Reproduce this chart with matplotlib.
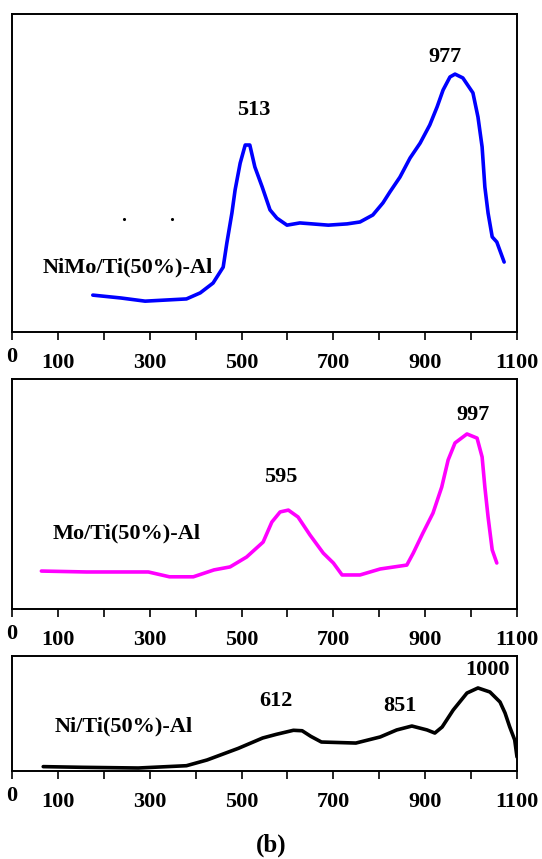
import matplotlib
matplotlib.use("Agg")
import matplotlib.pyplot as plt
from matplotlib.transforms import ScaledTranslation

plt.rcParams['font.family'] = ['Liberation Serif', 'DejaVu Serif']
plt.rcParams['font.weight'] = 'bold'

# ---- data (temperature, relative signal in % of panel height) ----
nimo_x = [176, 237, 290, 380, 410, 438, 460, 468, 479, 486, 497, 508, 518, 529, 545, 562, 577,
          599, 627, 689, 730, 758, 786, 808, 823, 845, 867, 889, 910, 926, 939, 954, 965, 982,
          1004, 1015, 1024, 1030, 1037, 1046, 1056, 1072]
nimo_y = [11.6, 10.7, 9.7, 10.4, 12.3, 15.4, 20.4, 28.0, 37.4, 44.7, 53.1, 58.8, 58.8, 51.9,
          45.6, 38.4, 35.8, 33.6, 34.3, 33.6, 34.0, 34.6, 36.8, 40.6, 44.0, 48.7, 54.7, 59.4,
          65.1, 70.8, 76.1, 80.2, 81.1, 79.9, 75.2, 67.6, 58.2, 45.6, 37.4, 29.9, 28.3, 22.0]
nimo_dots_x = [243, 348]
nimo_dots_y = [35.5, 35.5]

mo_x = [64, 162, 297, 343, 395, 440, 475, 511, 547, 566, 584, 602, 623, 649, 678, 700, 719,
        758, 802, 860, 874, 895, 917, 936, 950, 965, 991, 1013, 1024, 1030, 1037, 1046, 1056]
mo_y = [16.5, 16.1, 16.1, 14.0, 14.0, 17.0, 18.3, 22.6, 29.1, 37.8, 42.2, 43.0, 40.0, 32.2,
        24.3, 20.0, 14.8, 14.8, 17.4, 19.1, 24.3, 33.0, 41.7, 53.0, 64.8, 72.2, 76.1, 74.3,
        66.1, 53.0, 40.0, 25.7, 20.0]

ni_x = [68, 154, 275, 380, 425, 493, 546, 576, 613, 632, 651, 674, 749, 802, 838, 871, 904,
        921, 937, 961, 991, 1015, 1041, 1063, 1074, 1084, 1095, 1100]
ni_y = [3.8, 3.2, 2.6, 4.6, 9.6, 19.7, 28.7, 31.9, 35.4, 35.0, 30.1, 25.2, 24.3, 29.6, 35.7,
        39.1, 35.7, 33.0, 38.3, 53.0, 67.8, 72.2, 68.7, 60.0, 50.4, 38.5, 27.0, 12.2]

tick_values = [0, 100, 200, 300, 400, 500, 600, 700, 800, 900, 1000, 1100]
tick_labels = ['0', '100', '', '300', '', '500', '', '700', '', '900', '', '1100']

sample_names = ['NiMo/Ti(50%)-Al', 'Mo/Ti(50%)-Al', 'Ni/Ti(50%)-Al']
peak_labels = [['513', '977'], ['595', '997'], ['612', '851', '1000']]
peak_label_x = [[527, 943], [585, 1005], [576, 845, 1035]]
peak_label_y = [[69.8, 86.5], [57.4, 84.3], [60.9, 56.5, 87.8]]
name_x = [252, 249, 244]
name_y = [20.4, 33.0, 38.3]
colors = ['#0000FF', '#FF00FF', '#000000']

W, H = 542, 859
fig = plt.figure(figsize=(W / 100, H / 100), dpi=100)

# panel rectangles in pixels: (left, top, right, bottom)
rects = [(12, 14, 517, 332), (12, 379, 517, 609), (12, 656, 517, 771)]
series = [(nimo_x, nimo_y), (mo_x, mo_y), (ni_x, ni_y)]

FS = 16
for i, (l, t, r, b) in enumerate(rects):
    ax = fig.add_axes([l / W, 1 - b / H, (r - l) / W, (b - t) / H])
    xs, ys = series[i]
    ax.plot(xs, ys, color=colors[i], lw=2.6, solid_joinstyle='round', solid_capstyle='round')
    if i == 0:
        ax.scatter(nimo_dots_x, nimo_dots_y, s=1.5, color='black', zorder=3)
    ax.set_xlim(0, 1100)
    ax.set_ylim(0, 100)
    for sp in ax.spines.values():
        sp.set_linewidth(1.4)
        sp.set_color('black')
    ax.set_yticks([])
    ax.set_xticks(tick_values)
    ax.set_xticklabels(tick_labels, fontsize=FS, fontweight='bold')
    ax.tick_params(axis='x', direction='out', length=6, width=1.2, pad=9)
    t0 = ax.xaxis.get_major_ticks()[0]
    t0.label1.set_transform(t0.label1.get_transform() +
                            ScaledTranslation(0, 4 / 72, fig.dpi_scale_trans))
    for lab, px, py in zip(peak_labels[i], peak_label_x[i], peak_label_y[i]):
        ax.text(px, py, lab, ha='center', va='center', fontsize=FS, fontweight='bold')
    ax.text(name_x[i], name_y[i], sample_names[i], ha='center', va='center',
            fontsize=FS, fontweight='bold')

fig.text(271 / W, 1 - 845 / H, '(b)', ha='center', va='center', fontsize=18, fontweight='bold')

fig.savefig('out.png', dpi=100)
